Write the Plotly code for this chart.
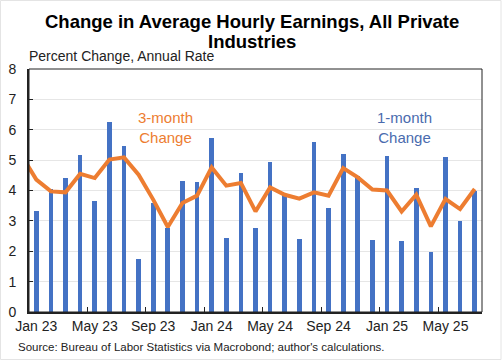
import plotly.graph_objects as go

months = ["Dec 22",
          "Jan 23", "Feb 23", "Mar 23", "Apr 23", "May 23", "Jun 23", "Jul 23", "Aug 23",
          "Sep 23", "Oct 23", "Nov 23", "Dec 23",
          "Jan 24", "Feb 24", "Mar 24", "Apr 24", "May 24", "Jun 24", "Jul 24", "Aug 24",
          "Sep 24", "Oct 24", "Nov 24", "Dec 24",
          "Jan 25", "Feb 25", "Mar 25", "Apr 25", "May 25", "Jun 25", "Jul 25"]

one_month = [None,
             3.31, 4.05, 4.42, 5.16, 3.64, 6.26, 5.48, 1.76,
             3.60, 2.76, 4.30, 4.28,
             5.73, 2.45, 4.59, 2.78, 4.94, 3.84, 2.41, 5.60,
             3.44, 5.20, 4.48, 2.37,
             5.15, 2.34, 4.07, 1.99, 5.09, 3.00, 4.00]

three_month = [5.15,
               4.36, 3.97, 3.94, 4.55, 4.41, 5.02, 5.09, 4.52,
               3.70, 2.80, 3.59, 3.83,
               4.76, 4.16, 4.25, 3.31, 4.10, 3.86, 3.73, 3.94,
               3.83, 4.74, 4.43, 4.03,
               4.00, 3.31, 3.86, 2.82, 3.72, 3.39, 4.05]

FONT = "Liberation Sans, Arial, sans-serif"
BLUE = "#4472C4"
ORANGE = "#ED7D31"

PL, PR, PT, PB = 29, 482, 69, 312
PW, PH = PR - PL, PB - PT

def px(x):
    return (x - PL) / PW

def py(y):
    return (PB - y) / PH

fig = go.Figure()
fig.add_trace(go.Bar(x=months, y=one_month, marker_color=BLUE, width=0.32,
                     marker_line_width=0, name="1-month Change"))
fig.add_trace(go.Scatter(x=months, y=three_month, mode="lines",
                         line=dict(color=ORANGE, width=4), name="3-month Change"))

fig.update_layout(
    width=504, height=360,
    margin=dict(l=PL, r=504 - PR, t=PT, b=360 - PB),
    paper_bgcolor="white", plot_bgcolor="white",
    showlegend=False,
    font=dict(family=FONT, size=14, color="#222222"),
    bargap=0,
)

fig.update_xaxes(type="category", range=[0.5, len(months) - 0.5],
                 tickmode="linear", tick0=1, dtick=4, tickson="boundaries",
                 ticks="inside", ticklen=5, tickcolor="#222222", tickwidth=1,
                 tickangle=0, automargin=False,
                 showline=True, linecolor="#222222", linewidth=2,
                 showgrid=False, tickfont=dict(size=14, color="#222222"))
fig.update_yaxes(range=[0, 8], dtick=1, tick0=0, automargin=False,
                 ticks="inside", ticklen=4, tickcolor="#222222",
                 ticklabelstandoff=8,
                 showline=True, linecolor="#222222", linewidth=2,
                 showgrid=True, gridcolor="#E6E6E6", gridwidth=1,
                 zeroline=False, tickfont=dict(size=14, color="#222222"))

fig.add_shape(type="rect", xref="paper", yref="paper", x0=0, x1=1, y0=0, y1=1,
              line=dict(color="#222222", width=1), layer="above")
fig.add_shape(type="rect", xref="paper", yref="paper",
              x0=px(0.5), x1=px(501), y0=py(0.5), y1=py(359.5),
              line=dict(color="#E4E4E4", width=1), layer="above")

fig.add_annotation(text="<b>Change in Average Hourly Earnings, All Private</b>",
                   xref="paper", yref="paper", x=px(252), y=py(21),
                   xanchor="center", yanchor="middle", showarrow=False,
                   font=dict(family=FONT, size=18.5, color="black"))
fig.add_annotation(text="<b>Industries</b>",
                   xref="paper", yref="paper", x=px(252), y=py(41),
                   xanchor="center", yanchor="middle", showarrow=False,
                   font=dict(family=FONT, size=18.5, color="black"))
fig.add_annotation(text="Percent Change, Annual Rate", xref="paper", yref="paper",
                   x=px(27), y=py(56), xanchor="left", yanchor="middle",
                   showarrow=False, font=dict(size=14, color="#222222"))
fig.add_annotation(text="3-month<br>Change", xref="paper", yref="paper",
                   x=px(165), y=py(127), xanchor="center", yanchor="middle",
                   showarrow=False, font=dict(size=15, color=ORANGE))
fig.add_annotation(text="1-month<br>Change", xref="paper", yref="paper",
                   x=px(404), y=py(127), xanchor="center", yanchor="middle",
                   showarrow=False, font=dict(size=15, color="#4A6BAE"))
fig.add_annotation(text="Source: Bureau of Labor Statistics via Macrobond; author's calculations.",
                   xref="paper", yref="paper", x=px(16), y=py(347),
                   xanchor="left", yanchor="middle", showarrow=False,
                   font=dict(size=11.5, color="#222222"))

fig.write_html("out.html", config={"displayModeBar": False},
               post_script="document.body.style.margin='0';")
